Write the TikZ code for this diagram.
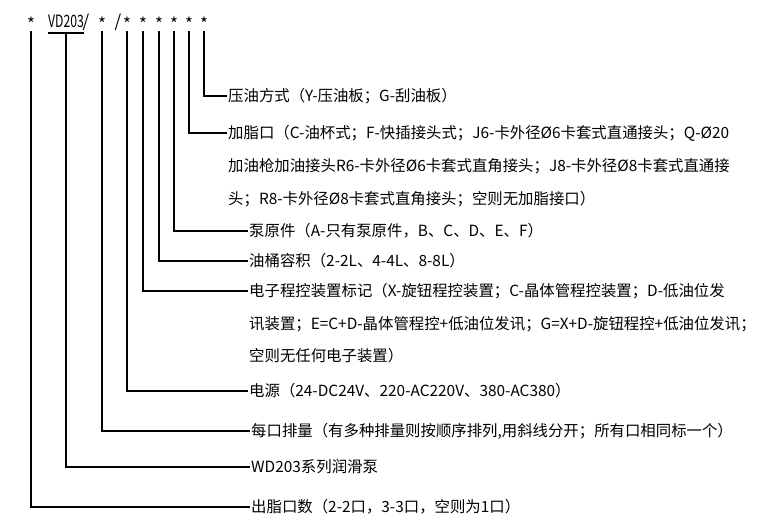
\documentclass[tikz,border=0pt]{standalone}
\usepackage{graphicx}
\usepackage{fontspec}
\setmainfont{Noto Sans CJK SC}
\usepackage{tikz}
\usetikzlibrary{
	positioning
}

\begin{document}
\begin{tikzpicture}[x=1pt,y=-1pt,
	lead/.style={line width=2.2pt},
	code/.style={anchor=base,inner sep=0pt,text depth=3pt,font=\fontsize{17}{20}\selectfont},
	desc/.style={anchor=west,inner sep=1pt,text height=13.5pt,text depth=2pt,font=\fontsize{15.4}{18}\selectfont}]
		
		\useasboundingbox (0,0) rectangle (760,527);
		
		% Model code
		\node[code] (outlet) at (31,28) {\raisebox{-3pt}{*}};
		\node[code,text depth=5pt] (series) at (66,28) {\scalebox{0.72}[1]{VD203}};
		\node[code] (slashA) at (86,28) {/};
		\node[code] (disp) at (102,28) {\raisebox{-3pt}{*}};
		\node[code] (slashB) at (118,28) {/};
		\node[code] (power) at (127,28) {\raisebox{-3pt}{*}};
		\node[code] (ctrl) at (143,28) {\raisebox{-3pt}{*}};
		\node[code] (tank) at (159,28) {\raisebox{-3pt}{*}};
		\node[code] (pump) at (174,28) {\raisebox{-3pt}{*}};
		\node[code] (fill) at (189,28) {\raisebox{-3pt}{*}};
		\node[code] (press) at (204,28) {\raisebox{-3pt}{*}};
		
		% Meaning of each position
		\node[desc] (pressT) at (227,96) {压油方式（Y-压油板；G-刮油板）};
		\node[desc] (fillT) at (227,133) {加脂口（C-油杯式；F-快插接头式；J6-卡外径Ø6卡套式直通接头；Q-Ø20};
		\node[desc,below=33pt of fillT.west,anchor=west] (fillT2) {加油枪加油接头R6-卡外径Ø6卡套式直角接头；J8-卡外径Ø8卡套式直通接};
		\node[desc,below=33pt of fillT2.west,anchor=west] (fillT3) {头；R8-卡外径Ø8卡套式直角接头；空则无加脂接口）};
		\node[desc] (pumpT) at (248,231) {泵原件（A-只有泵原件，B、C、D、E、F）};
		\node[desc] (tankT) at (248,261) {油桶容积（2-2L、4-4L、8-8L）};
		\node[desc] (ctrlT) at (248,291) {电子程控装置标记（X-旋钮程控装置；C-晶体管程控装置；D-低油位发};
		\node[desc,below=33pt of ctrlT.west,anchor=west] (ctrlT2) {讯装置；E=C+D-晶体管程控+低油位发讯；G=X+D-旋钮程控+低油位发讯；};
		\node[desc,below=32pt of ctrlT2.west,anchor=west] (ctrlT3) {空则无任何电子装置）};
		\node[desc] (powerT) at (248,391) {电源（24-DC24V、220-AC220V、380-AC380）};
		\node[desc] (dispT) at (250,431) {每口排量（有多种排量则按顺序排列,用斜线分开；所有口相同标一个）};
		\node[desc] (seriesT) at (250,467) {WD203系列润滑泵};
		\node[desc] (outletT) at (250,507) {出脂口数（2-2口，3-3口，空则为1口）};
		
		% Leaders
		\draw[lead] (series.south west) -- (series.south east);
		\draw[lead] (press.south) |- (pressT.west);
		\draw[lead] (fill.south) |- (fillT.west);
		\draw[lead] (pump.south) |- (pumpT.west);
		\draw[lead] (tank.south) |- (tankT.west);
		\draw[lead] (ctrl.south) |- (ctrlT.west);
		\draw[lead] (power.south) |- (powerT.west);
		\draw[lead] (disp.south) |- (dispT.west);
		\draw[lead] (series.south) |- (seriesT.west);
		\draw[lead] (outlet.south) |- (outletT.west);
		
	\end{tikzpicture}
\end{document}
